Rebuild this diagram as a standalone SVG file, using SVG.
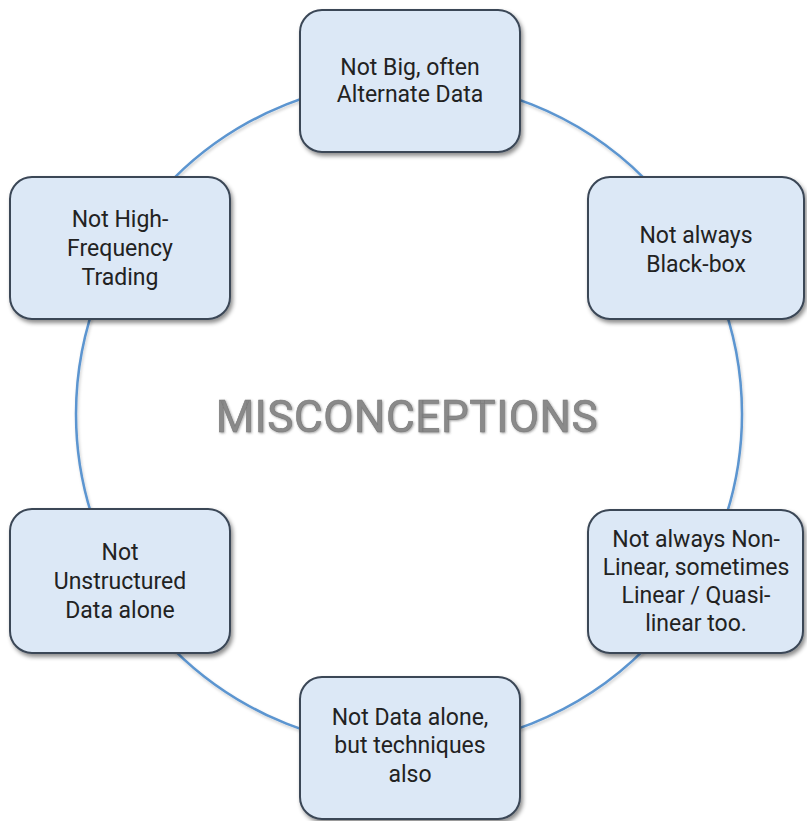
<svg xmlns="http://www.w3.org/2000/svg" width="807" height="821" viewBox="0 0 807 821">
<style>
.box{fill:#dce8f6;stroke:#3a4656;stroke-width:2;filter:url(#sh)}
.t{font-family:Roboto,"Liberation Sans",sans-serif;font-size:23px;fill:#222;text-anchor:middle}
.conn{fill:none;stroke:#5b95d0;stroke-width:2.5;filter:url(#sh2)}
.title{font-family:Roboto,"Liberation Sans",sans-serif;font-size:44px;font-weight:400;letter-spacing:0.6px;fill:#8a8a8a;stroke:#7a7a7a;stroke-width:0.6;text-anchor:middle;filter:url(#emb)}
</style>
<defs>
<filter id="sh" x="-10%" y="-10%" width="125%" height="130%">
<feDropShadow dx="2" dy="3" stdDeviation="2" flood-color="#000" flood-opacity="0.45"/>
</filter>
<filter id="sh2" x="-5%" y="-5%" width="110%" height="110%">
<feDropShadow dx="1" dy="2" stdDeviation="1.5" flood-color="#000" flood-opacity="0.2"/>
</filter>
<filter id="emb" x="-5%" y="-20%" width="110%" height="150%">
<feDropShadow dx="1" dy="1" stdDeviation="1" flood-color="#444" flood-opacity="0.5"/>
</filter>
</defs>
<rect width="807" height="821" fill="#fff"/>
<g id="connectors">
<circle class="conn" cx="409" cy="414" r="333"/>
</g>
<text class="title" x="407" y="432">MISCONCEPTIONS</text>
<g id="node-top">
<rect class="box" x="300" y="10" width="220" height="142" rx="22"/>
<text class="t" x="410" y="75">Not Big, often</text>
<text class="t" x="410" y="102">Alternate Data</text>
</g>
<g id="node-upper-right">
<rect class="box" x="588" y="177" width="216" height="142" rx="22"/>
<text class="t" x="696" y="243">Not always</text>
<text class="t" x="696" y="272">Black-box</text>
</g>
<g id="node-lower-right">
<rect class="box" x="588" y="510" width="215" height="143" rx="22"/>
<text class="t" x="696" y="547">Not always Non-</text>
<text class="t" x="696" y="575">Linear, sometimes</text>
<text class="t" x="696" y="603">Linear / Quasi-</text>
<text class="t" x="696" y="631">linear too.</text>
</g>
<g id="node-bottom">
<rect class="box" x="300" y="677" width="220" height="142" rx="22"/>
<text class="t" x="410" y="725">Not Data alone,</text>
<text class="t" x="410" y="753">but techniques</text>
<text class="t" x="410" y="782">also</text>
</g>
<g id="node-lower-left">
<rect class="box" x="10" y="509" width="220" height="144" rx="22"/>
<text class="t" x="120" y="560">Not</text>
<text class="t" x="120" y="589">Unstructured</text>
<text class="t" x="120" y="618">Data alone</text>
</g>
<g id="node-upper-left">
<rect class="box" x="10" y="177" width="220" height="142" rx="22"/>
<text class="t" x="120" y="227">Not High-</text>
<text class="t" x="120" y="256">Frequency</text>
<text class="t" x="120" y="285">Trading</text>
</g>
</svg>
